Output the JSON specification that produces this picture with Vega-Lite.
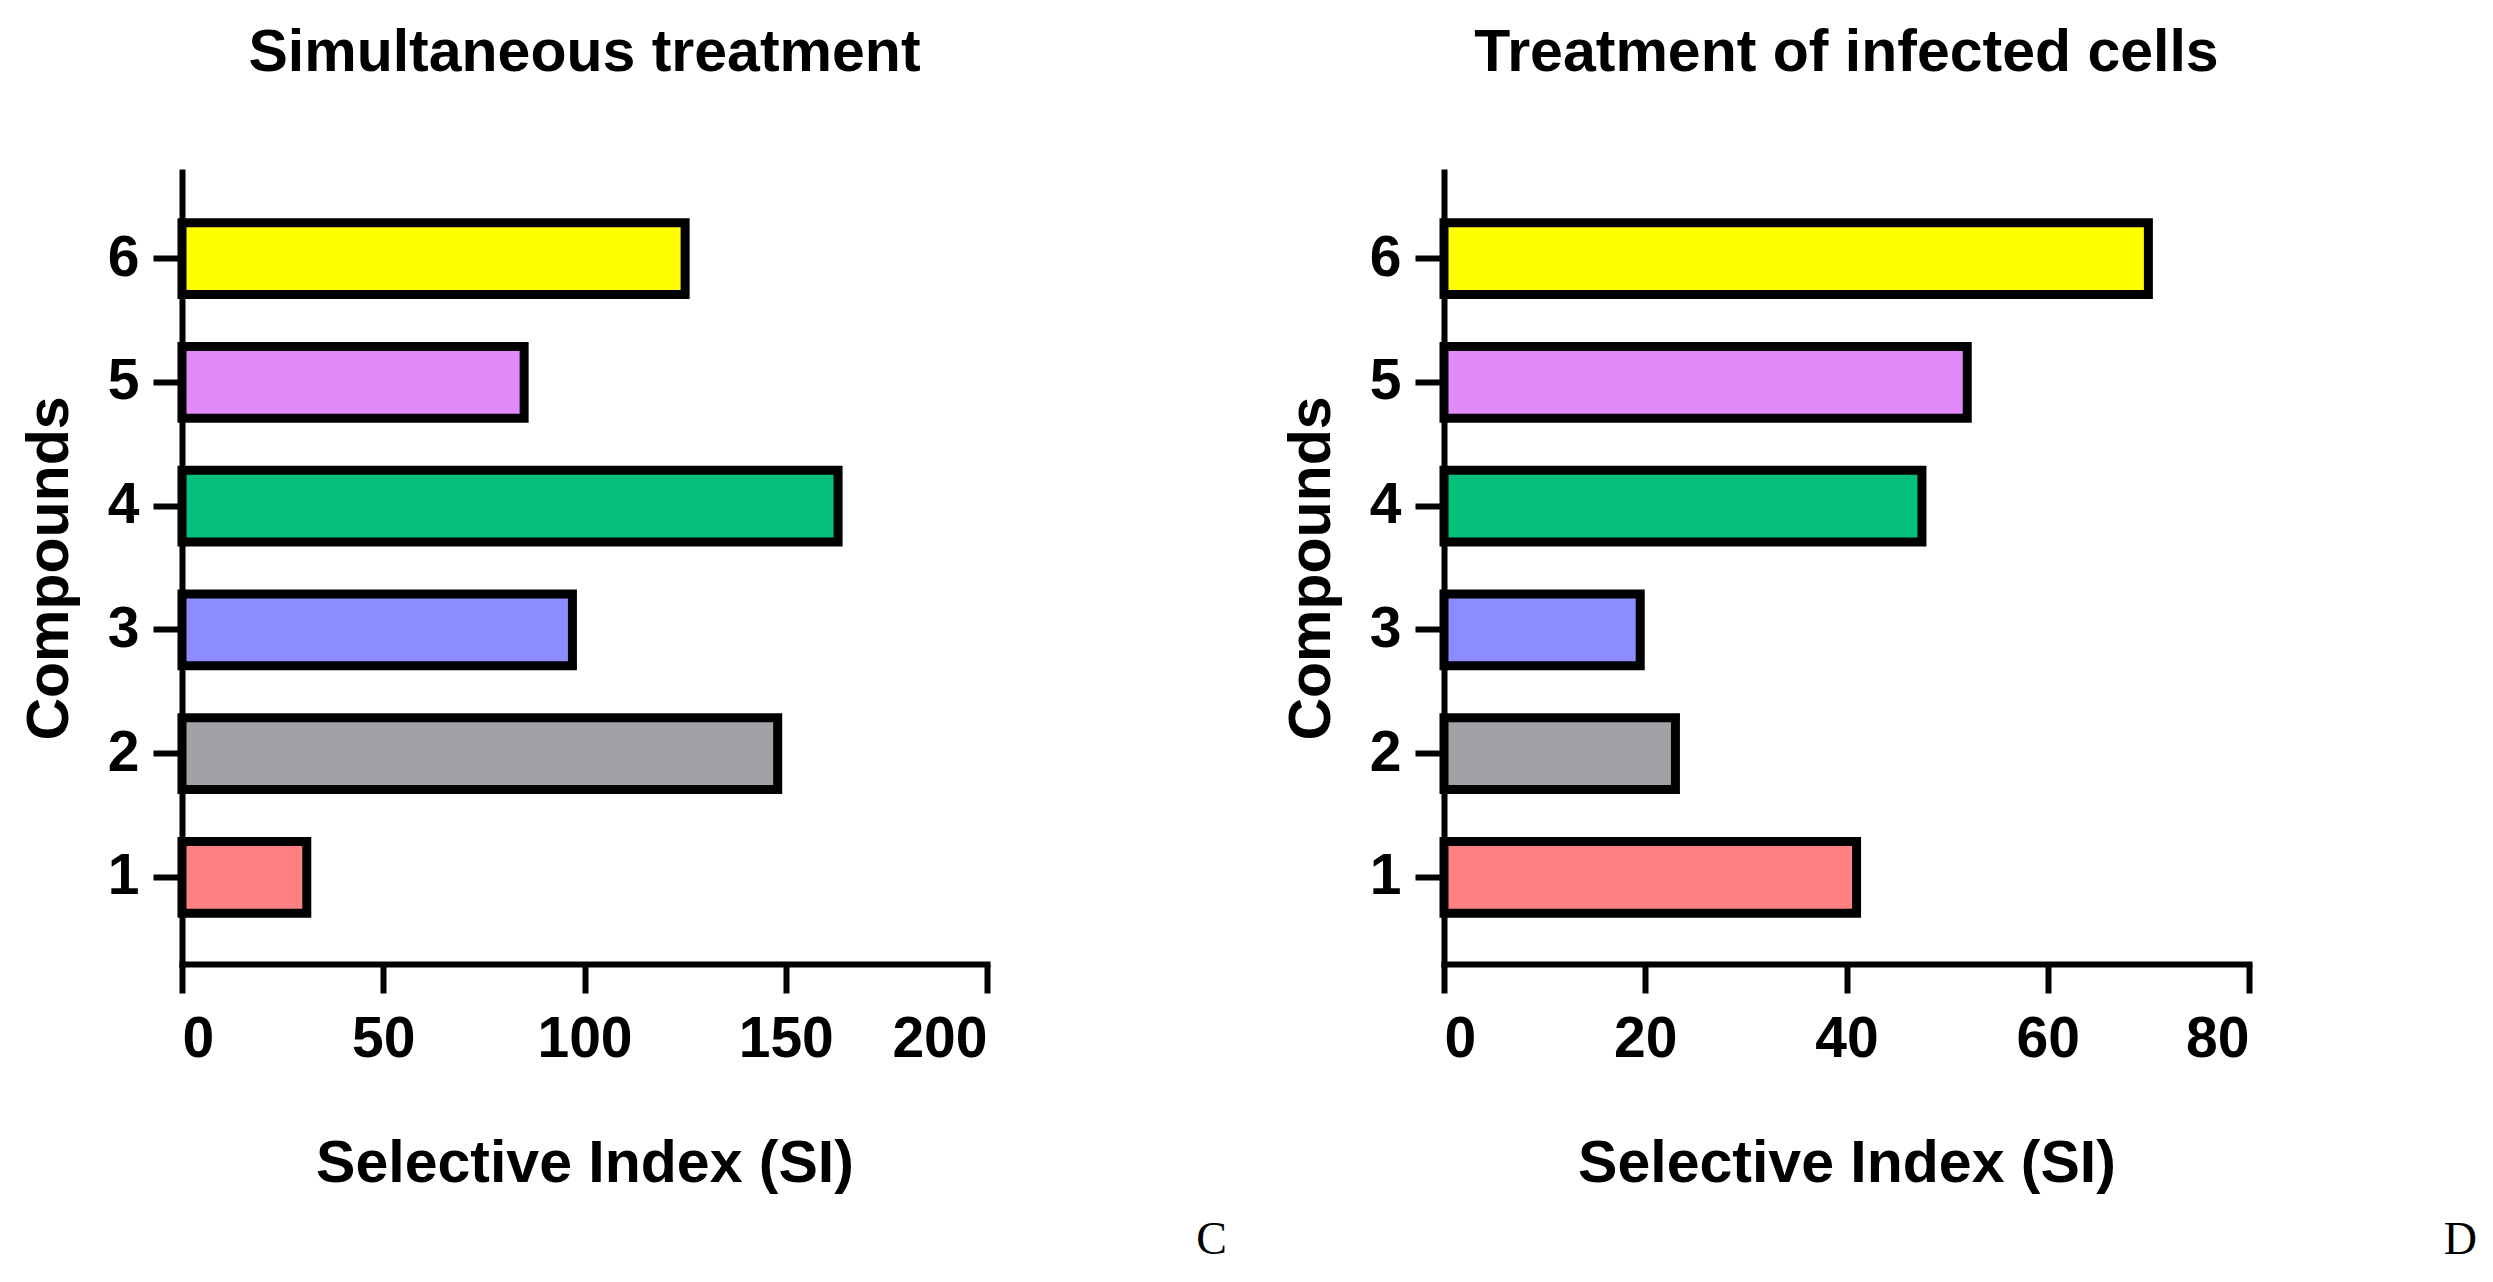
{
  "$schema": "https://vega.github.io/schema/vega-lite/v6.json",
  "background": "white",
  "padding": {"left": 20, "top": 24, "right": 10, "bottom": 10},
  "spacing": 55,
  "config": {
    "font": "Liberation Sans",
    "view": {"stroke": null},
    "axis": {
      "grid": false,
      "domainColor": "black",
      "domainWidth": 6,
      "domainCap": "square",
      "tickColor": "black",
      "tickWidth": 6,
      "tickSize": 29,
      "labelFont": "Liberation Sans",
      "labelFontSize": 57,
      "labelFontWeight": "bold",
      "labelColor": "black",
      "titleFont": "Liberation Sans",
      "titleFontSize": 59,
      "titleFontWeight": "bold",
      "titleColor": "black"
    },
    "axisY": {"labelPadding": 14, "titlePadding": 28, "labelAngle": 0},
    "axisX": {"labelPadding": 18, "titlePadding": 67}
  },
  "hconcat": [
    {
      "title": {"text": "C", "orient": "bottom", "anchor": "end", "font": "Liberation Serif", "fontSize": 46, "fontWeight": "normal", "color": "black", "dx": 237, "offset": 25},
      "vconcat": [
        {
          "title": {"text": "Simultaneous treatment", "font": "Liberation Sans", "fontSize": 59, "fontWeight": "bold", "color": "black", "baseline": "alphabetic", "offset": 42},
          "width": 805,
          "height": 792,
          "data": {"values": [
            {"compound": "1", "si": 31},
            {"compound": "2", "si": 148},
            {"compound": "3", "si": 97},
            {"compound": "4", "si": 163},
            {"compound": "5", "si": 85},
            {"compound": "6", "si": 125}
          ]},
          "mark": {"type": "bar", "stroke": "black", "strokeWidth": 9},
          "encoding": {
            "y": {"field": "compound", "type": "ordinal", "sort": "descending", "scale": {"paddingInner": 0.42, "paddingOuter": 0.41}, "axis": {"title": "Compounds"}},
            "x": {"field": "si", "type": "quantitative", "scale": {"domain": [0, 200]}, "axis": {"values": [0, 50, 100, 150, 200], "title": "Selective Index (SI)"}},
            "color": {"field": "compound", "type": "nominal", "scale": {"domain": ["1", "2", "3", "4", "5", "6"], "range": ["#FF8080", "#A2A1A6", "#8C8CFF", "#05C07A", "#DF8AF6", "#FFFF00"]}, "legend": null}
          }
        }
      ]
    },
    {
      "title": {"text": "D", "orient": "bottom", "anchor": "end", "font": "Liberation Serif", "fontSize": 46, "fontWeight": "normal", "color": "black", "dx": 225, "offset": 25},
      "vconcat": [
        {
          "title": {"text": "Treatment of infected cells", "font": "Liberation Sans", "fontSize": 59, "fontWeight": "bold", "color": "black", "baseline": "alphabetic", "offset": 42},
          "width": 805,
          "height": 792,
          "data": {"values": [
            {"compound": "1", "si": 41},
            {"compound": "2", "si": 23},
            {"compound": "3", "si": 19.5},
            {"compound": "4", "si": 47.5},
            {"compound": "5", "si": 52},
            {"compound": "6", "si": 70}
          ]},
          "mark": {"type": "bar", "stroke": "black", "strokeWidth": 9},
          "encoding": {
            "y": {"field": "compound", "type": "ordinal", "sort": "descending", "scale": {"paddingInner": 0.42, "paddingOuter": 0.41}, "axis": {"title": "Compounds"}},
            "x": {"field": "si", "type": "quantitative", "scale": {"domain": [0, 80]}, "axis": {"values": [0, 20, 40, 60, 80], "title": "Selective Index (SI)"}},
            "color": {"field": "compound", "type": "nominal", "scale": {"domain": ["1", "2", "3", "4", "5", "6"], "range": ["#FF8080", "#A2A1A6", "#8C8CFF", "#05C07A", "#DF8AF6", "#FFFF00"]}, "legend": null}
          }
        }
      ]
    }
  ]
}
